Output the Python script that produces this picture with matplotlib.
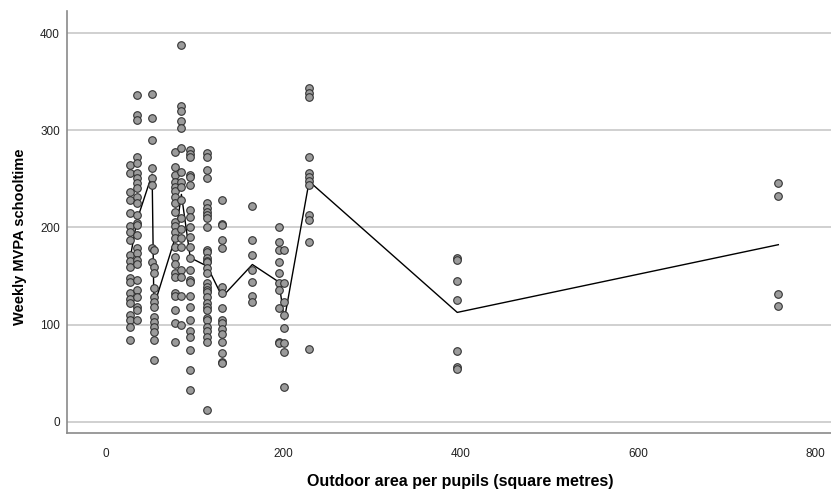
import numpy as np
import pandas as pd
import matplotlib
matplotlib.use('Agg')
import matplotlib.pyplot as plt

plt.rcParams['font.family'] = ['Liberation Sans', 'DejaVu Sans']

# outdoor area per pupil (one value per school group)
area = [27, 35, 52, 54, 78, 85, 95, 114, 131, 165, 195, 201, 229, 396, 758]

# weekly MVPA values, one list per area value
mvpa_27 = [264, 256, 236, 228, 215, 201, 195, 187, 172, 165, 159, 148, 144, 133, 126, 122, 110, 105, 98, 84]
mvpa_35 = [336, 316, 311, 272, 266, 256, 251, 246, 241, 231, 225, 213, 205, 203, 192, 179, 174, 167, 162, 146,
           136, 128, 118, 115, 105]
mvpa_52 = [337, 313, 290, 261, 251, 244, 179, 164]
mvpa_54 = [177, 159, 153, 138, 128, 123, 118, 108, 103, 98, 92, 84, 64]
mvpa_78 = [278, 262, 254, 247, 242, 237, 231, 225, 216, 206, 201, 195, 189, 180, 170, 162, 153, 149, 133, 129,
           115, 102, 82]
mvpa_85 = [388, 325, 320, 310, 302, 282, 257, 247, 242, 228, 210, 198, 189, 180, 156, 149, 129, 100]
mvpa_95 = [280, 276, 272, 254, 252, 244, 218, 211, 200, 190, 180, 169, 156, 146, 144, 129, 118, 105, 93, 87,
           74, 53, 33]
mvpa_114 = [277, 273, 259, 251, 225, 220, 216, 213, 210, 200, 177, 175, 169, 165, 164, 158, 153, 143, 139, 136,
            134, 128, 122, 118, 115, 107, 105, 98, 93, 87, 82, 12]
mvpa_131 = [228, 204, 203, 187, 179, 139, 133, 117, 105, 102, 95, 90, 82, 71, 62, 61]
mvpa_165 = [222, 187, 172, 156, 144, 129, 123]
mvpa_195 = [200, 185, 177, 164, 153, 143, 136, 117, 82, 81]
mvpa_201 = [177, 143, 123, 110, 97, 81, 72, 36]
mvpa_229 = [344, 338, 334, 272, 256, 252, 248, 244, 213, 208, 185, 75]
mvpa_396 = [169, 166, 145, 125, 73, 56, 54]
mvpa_758 = [246, 232, 132, 119]

mvpa = [mvpa_27, mvpa_35, mvpa_52, mvpa_54, mvpa_78, mvpa_85, mvpa_95, mvpa_114, mvpa_131,
        mvpa_165, mvpa_195, mvpa_201, mvpa_229, mvpa_396, mvpa_758]

rows = []
for a, vals in zip(area, mvpa):
    for v in vals:
        rows.append((a, v))
df = pd.DataFrame(rows, columns=['area', 'mvpa'])
means = df.groupby('area')['mvpa'].mean()

fig = plt.figure(figsize=(8.31, 4.95), dpi=100)
ax = fig.add_axes([0.0806, 0.1253, 0.919, 0.853])

ax.plot(means.index, means.values, color='black', lw=1.0, zorder=2)
ax.scatter(df['area'], df['mvpa'], s=30, facecolor='#9b9b9b', edgecolor='#333333', linewidths=0.8, zorder=3)

ax.set_xlim(-44, 817)
ax.set_ylim(-11.5, 423)
ax.set_xticks([0, 200, 400, 600, 800])
ax.set_yticks([0, 100, 200, 300, 400])
ax.yaxis.grid(True, color='#c8c8c8', lw=1.2, zorder=0)
ax.set_axisbelow(True)

for s in ['top', 'right']:
    ax.spines[s].set_visible(False)
for s in ['left', 'bottom']:
    ax.spines[s].set_color('#8a8a8a')
    ax.spines[s].set_linewidth(1.2)

ax.tick_params(axis='y', length=0, pad=5, labelsize=8.5, labelcolor='#222222')
ax.tick_params(axis='x', length=0, pad=11, labelsize=8.5, labelcolor='#222222')

ax.set_xlabel('Outdoor area per pupils (square metres)', fontsize=11.5, fontweight='bold', va='center')
ax.xaxis.set_label_coords(0.515, -0.116)
ax.set_ylabel('Weekly MVPA schooltime', fontsize=10.5, fontweight='bold', va='center')
ax.yaxis.set_label_coords(-0.0616, 0.464)

fig.savefig('out.png', dpi=100, facecolor='white')
